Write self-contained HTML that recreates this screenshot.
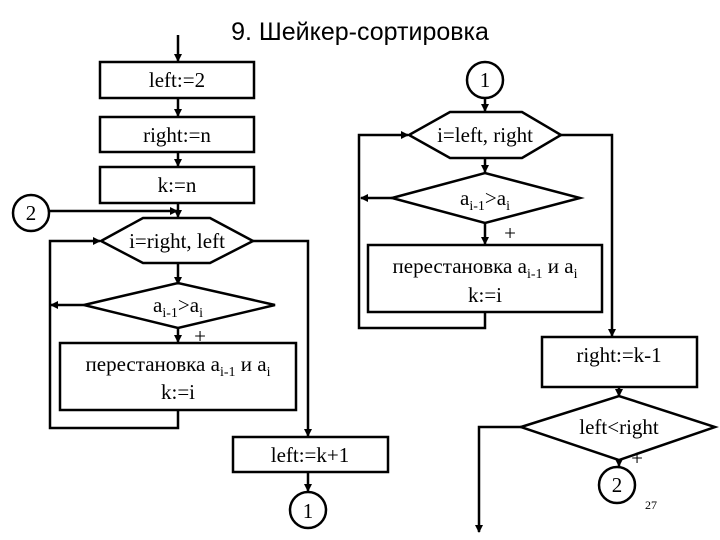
<!DOCTYPE html>
<html><head><meta charset="utf-8"><style>
body{margin:0;background:#fff}
svg{display:block}
.t{font-family:"Liberation Serif",serif;font-size:21px;fill:#000}
</style></head><body>
<svg width="720" height="540" viewBox="0 0 720 540" xmlns="http://www.w3.org/2000/svg">
<defs><marker id="a" markerWidth="8" markerHeight="8" refX="7" refY="4" orient="auto" markerUnits="userSpaceOnUse"><path d="M0,0 L8,4 L0,8 z" fill="#000"/></marker></defs>
<text x="360" y="40" text-anchor="middle" font-family="Liberation Sans,sans-serif" font-size="25">9. Шейкер-сортировка</text>
<g fill="none" stroke="#000" stroke-width="2.5">
<!-- left column -->
<line x1="178" y1="35" x2="178" y2="61" marker-end="url(#a)"/>
<rect x="100" y="62" width="154" height="36" fill="#fff"/>
<line x1="178" y1="98" x2="178" y2="116" marker-end="url(#a)"/>
<rect x="100" y="117" width="154" height="35"/>
<line x1="178" y1="152" x2="178" y2="166" marker-end="url(#a)"/>
<rect x="100" y="167" width="154" height="36"/>
<circle cx="31" cy="213" r="18"/>
<line x1="49" y1="211" x2="177" y2="211" marker-end="url(#a)"/>
<line x1="178" y1="203" x2="178" y2="217" marker-end="url(#a)"/>
<polygon points="101,241 143,218 210,218 253,241 210,263 143,263"/>
<polyline points="178,410 178,428 50,428 50,241 100,241" marker-end="url(#a)"/>
<polyline points="253,241 308,241 308,436" marker-end="url(#a)"/>
<line x1="178" y1="263" x2="178" y2="284" marker-end="url(#a)"/>
<polygon points="84,305 178,283 275,305 178,328"/>
<line x1="84" y1="305" x2="51" y2="305" marker-end="url(#a)"/>
<line x1="178" y1="328" x2="178" y2="342" marker-end="url(#a)"/>
<rect x="60" y="343" width="236" height="67"/>
<rect x="233" y="437" width="155" height="35"/>
<line x1="308" y1="472" x2="308" y2="491" marker-end="url(#a)"/>
<circle cx="308" cy="510" r="18"/>
<!-- right column -->
<circle cx="485" cy="80" r="18"/>
<line x1="485" y1="98" x2="485" y2="111" marker-end="url(#a)"/>
<polygon points="409,135 450,112 522,112 561,135 522,158 450,158"/>
<polyline points="485,312 485,328 359,328 359,135 408,135" marker-end="url(#a)"/>
<polyline points="561,135 612,135 612,336" marker-end="url(#a)"/>
<line x1="485" y1="158" x2="485" y2="172" marker-end="url(#a)"/>
<polygon points="392,198 485,173 580,198 485,223"/>
<line x1="392" y1="198" x2="361" y2="198" marker-end="url(#a)"/>
<line x1="485" y1="223" x2="485" y2="244" marker-end="url(#a)"/>
<rect x="368" y="245" width="234" height="67"/>
<rect x="542" y="337" width="155" height="50"/>
<line x1="619" y1="387" x2="619" y2="396" marker-end="url(#a)"/>
<polygon points="521,427 619,396 715,427 619,460"/>
<polyline points="521,427 479,427 479,532" marker-end="url(#a)"/>
<line x1="619" y1="460" x2="619" y2="466" marker-end="url(#a)"/>
<circle cx="617" cy="485" r="18"/>
</g>
<g class="t" text-anchor="middle">
<text x="177" y="87">left:=2</text>
<text x="177" y="142">right:=n</text>
<text x="177" y="192">k:=n</text>
<text x="31" y="220">2</text>
<text x="177" y="248">i=right, left</text>
<text x="178" y="312">a<tspan font-size="14" dy="5">i-1</tspan><tspan dy="-5">&gt;a</tspan><tspan font-size="14" dy="5">i</tspan></text>
<text x="200" y="343">+</text>
<text x="178" y="371">перестановка a<tspan font-size="14" dy="5">i-1</tspan><tspan dy="-5"> и a</tspan><tspan font-size="14" dy="5">i</tspan></text>
<text x="178" y="399">k:=i</text>
<text x="310" y="462">left:=k+1</text>
<text x="308" y="518">1</text>
<text x="485" y="87">1</text>
<text x="485" y="142">i=left, right</text>
<text x="485" y="205">a<tspan font-size="14" dy="5">i-1</tspan><tspan dy="-5">&gt;a</tspan><tspan font-size="14" dy="5">i</tspan></text>
<text x="510" y="240">+</text>
<text x="485" y="273">перестановка a<tspan font-size="14" dy="5">i-1</tspan><tspan dy="-5"> и a</tspan><tspan font-size="14" dy="5">i</tspan></text>
<text x="485" y="302">k:=i</text>
<text x="619" y="362">right:=k-1</text>
<text x="619" y="434">left&lt;right</text>
<text x="637" y="465">+</text>
<text x="617" y="492">2</text>
<text x="651" y="509" font-size="12">27</text>
</g>
</svg>
</body></html>
